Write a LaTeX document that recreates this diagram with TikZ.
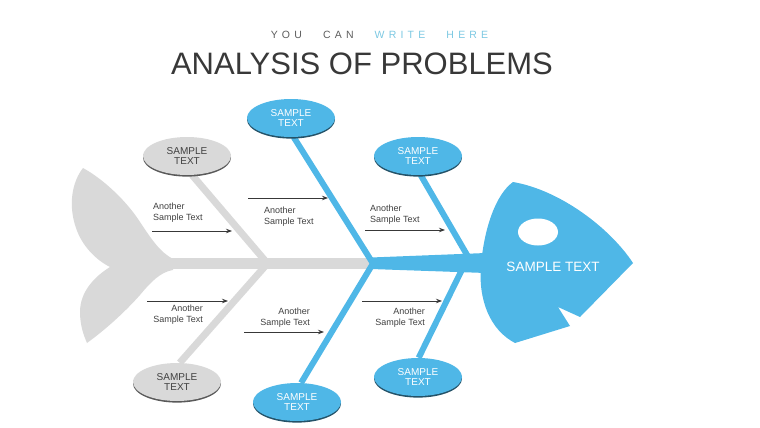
\documentclass[tikz,border=0pt]{standalone}
\usepackage{fontspec}
\setmainfont{Liberation Sans}
\usepackage{xcolor}
\usetikzlibrary{shapes.geometric,arrows.meta,shadows,backgrounds,calc}
\definecolor{fishblue}{HTML}{4FB7E7}
\definecolor{fishgray}{HTML}{D9D9D9}
\definecolor{inkgray}{HTML}{404040}
\definecolor{titlegray}{HTML}{383838}
\definecolor{subblue}{HTML}{7CC8E2}
\tikzset{
  oval/.style={ellipse, minimum width=88pt, minimum height=38pt, inner sep=0pt, align=center, font=\fontsize{10}{10}\selectfont},
  ovalgray/.style={oval, fill=fishgray, text=inkgray, drop shadow={shadow xshift=0pt, shadow yshift=-1.6pt, opacity=1, fill=black!65}},
  ovalblue/.style={oval, fill=fishblue, text=white, drop shadow={shadow xshift=0pt, shadow yshift=-1.6pt, opacity=1, fill=fishblue!45!black}},
  bonegray/.style={draw=fishgray, line width=7pt},
  boneblue/.style={draw=fishblue, line width=6pt},
  cause/.style={-{Stealth[length=6pt,width=4.5pt]}, line width=0.9pt, draw=titlegray},
  leg/.style={font=\fontsize{9}{11}\selectfont, text=inkgray, inner sep=0pt}
}
\begin{document}
\begin{tikzpicture}[x=1pt,y=-1pt]
\useasboundingbox (0,0) rectangle (760,428);
\node[font=\fontsize{10.5}{10.5}\selectfont\addfontfeature{LetterSpace=40}] (kicker) at (379.5,35) {\textcolor{inkgray!85}{YOU\hspace{14pt} CAN}\hspace{14pt} \textcolor{subblue}{WRITE\hspace{14pt} HERE}};
\node[font=\fontsize{31}{31}\selectfont, text=titlegray] (title) at (362,64) {ANALYSIS OF PROBLEMS};
\node[ovalgray] (g1) at (187,156) {SAMPLE\\TEXT};
\node[ovalgray] (g2) at (177,382) {SAMPLE\\TEXT};
\node[ovalblue] (b1) at (291,118) {SAMPLE\\TEXT};
\node[ovalblue] (b2) at (297,402) {SAMPLE\\TEXT};
\node[ovalblue] (b3) at (418,156) {SAMPLE\\TEXT};
\node[ovalblue] (b4) at (418,377) {SAMPLE\\TEXT};
\node[font=\fontsize{13.5}{13.5}\selectfont, text=white] (headtxt) at (553,267) {SAMPLE TEXT};
\coordinate (tailend) at (170,263.5);
\coordinate (jgray) at (267.5,263.5);
\coordinate (jblue) at (373,263.5);
\coordinate (jb3) at (472,263.5);
\coordinate (jb4) at (465,263.5);
\coordinate (neck) at (486,263);
\node[leg, align=left, anchor=west] (c1) at (153,212.5) {Another\\Sample Text};
\node[leg, align=left, anchor=west] (c2) at (264,216.5) {Another\\Sample Text};
\node[leg, align=left, anchor=west] (c3) at (370,214.5) {Another\\Sample Text};
\node[leg, align=right, anchor=east] (c4) at (203,314.5) {Another\\Sample Text};
\node[leg, align=right, anchor=east] (c5) at (310,317.5) {Another\\Sample Text};
\node[leg, align=right, anchor=east] (c6) at (425,318) {Another\\Sample Text};
\coordinate (c1s) at (152,231); \coordinate (c1e) at (232,231);
\coordinate (c2s) at (248,198); \coordinate (c2e) at (328,198);
\coordinate (c3s) at (365,230); \coordinate (c3e) at (445,230);
\coordinate (c4s) at (147,301); \coordinate (c4e) at (228,301);
\coordinate (c5s) at (244,332); \coordinate (c5e) at (324,332);
\coordinate (c6s) at (362,301); \coordinate (c6e) at (442,301);
\draw[cause] (c1s) -- (c1e);
\draw[cause] (c2s) -- (c2e);
\draw[cause] (c3s) -- (c3e);
\draw[cause] (c4s) -- (c4e);
\draw[cause] (c5s) -- (c5e);
\draw[cause] (c6s) -- (c6e);
\begin{scope}[on background layer]
  \fill[fishgray] (173,259) .. controls (160,252) and (152,240) .. (140,222)
    .. controls (128,203) and (105,180) .. (83,168)
    .. controls (72,182) and (68,205) .. (76,228)
    .. controls (82,246) and (96,260) .. (110,267)
    .. controls (94,277) and (80,292) .. (80,312)
    .. controls (80,326) and (84,336) .. (87,343)
    .. controls (105,330) and (125,312) .. (140,295)
    .. controls (150,283) and (160,272) .. (173,270) -- cycle;
  \draw[bonegray] (g1.-75) -- (jgray);
  \draw[bonegray] (g2.82) -- (jgray);
  \draw[fishgray, line width=11pt] (tailend) -- (jblue);
  \draw[boneblue] (b1.-82) -- (jblue);
  \draw[boneblue] (b2.78) -- (jblue);
  \draw[boneblue] (b3.-82) -- (jb3);
  \draw[boneblue] (b4.88) -- (jb4);
  \fill[fishblue] ($(jblue)+(-2,-6)$) -- ($(neck)+(0,-10)$) -- ($(neck)+(0,10)$) -- ($(jblue)+(-2,5.5)$) -- cycle;
  \fill[fishblue] (513,182) .. controls (560,190) and (610,228) .. (633,263)
    -- (580,317) -- (558,307) -- (570,326) -- (515,343)
    .. controls (490,330) and (478,300) .. (481,265)
    .. controls (484,230) and (495,195) .. (513,182) -- cycle;
  \fill[white] (538,232) ellipse (20 and 13.5);
\end{scope}
\end{tikzpicture}
\end{document}
